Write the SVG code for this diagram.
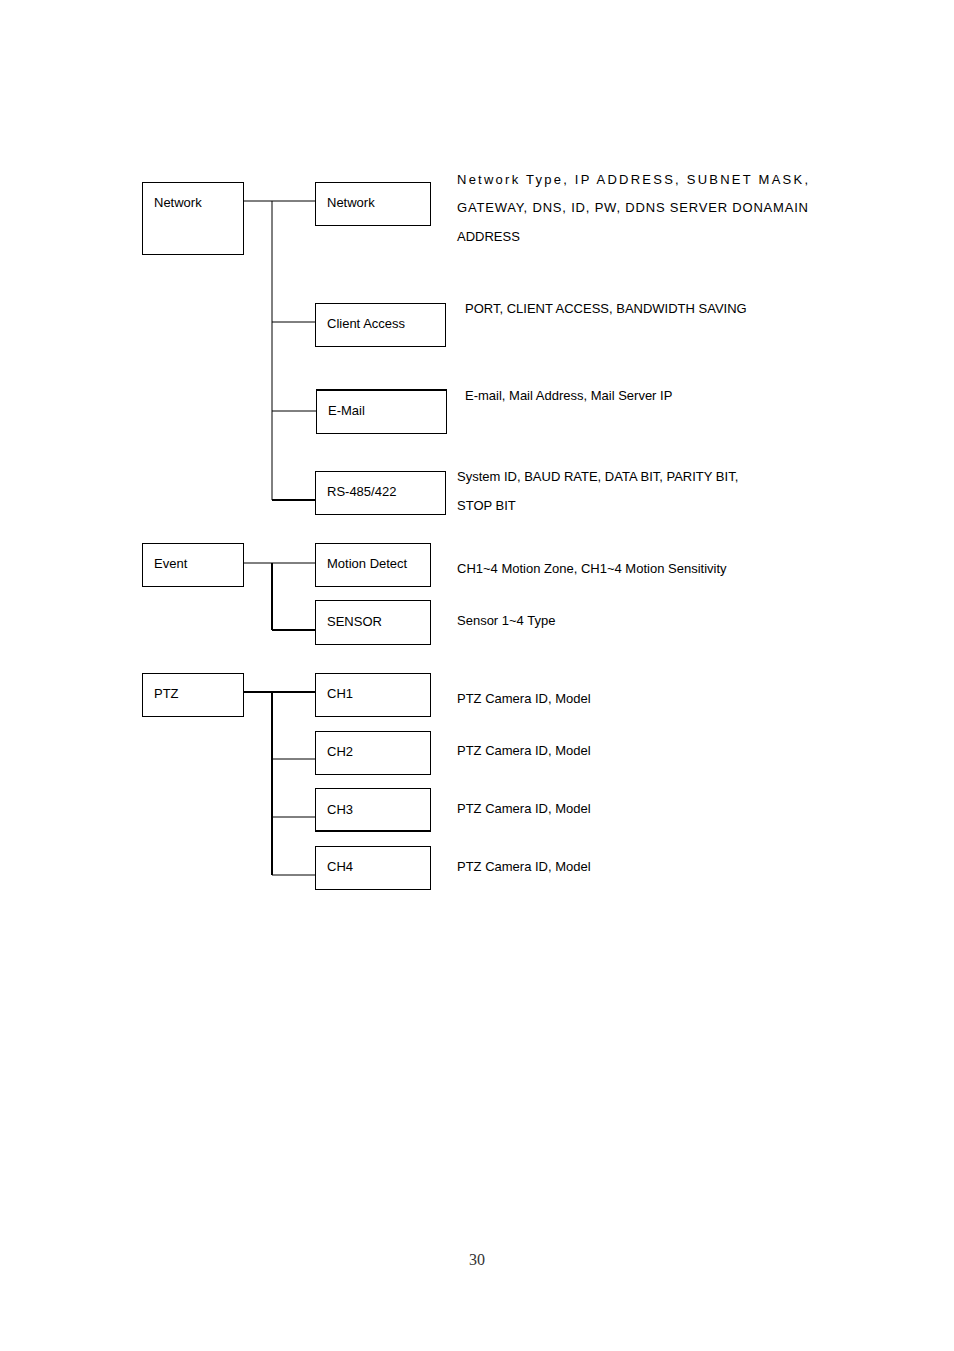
<svg xmlns="http://www.w3.org/2000/svg" width="954" height="1351" viewBox="0 0 954 1351">
<style>
rect{fill:#fff;stroke:#000;stroke-width:1}
text{font-family:"Liberation Sans",Arial,sans-serif;font-size:13px;fill:#000}
.c line{stroke:#000;stroke-width:1}
.t{stroke-width:2!important}
</style>
<rect x="0" y="0" width="954" height="1351" style="stroke:none"/>
<g class="c">
<line x1="243" y1="201" x2="315" y2="201"/>
<line x1="272" y1="201" x2="272" y2="500"/>
<line x1="272" y1="322" x2="315" y2="322"/>
<line x1="272" y1="411" x2="316" y2="411"/>
<line class="t" x1="272" y1="500" x2="315" y2="500"/>
<line x1="243" y1="563" x2="315" y2="563"/>
<line class="t" x1="272" y1="563" x2="272" y2="630"/>
<line class="t" x1="272" y1="630" x2="315" y2="630"/>
<line class="t" x1="243" y1="692" x2="315" y2="692"/>
<line class="t" x1="272" y1="692" x2="272" y2="875"/>
<line x1="272" y1="759" x2="315" y2="759"/>
<line x1="272" y1="817" x2="315" y2="817"/>
<line x1="272" y1="875" x2="315" y2="875"/>
</g>
<g id="n-network"><rect x="142.5" y="182.5" width="101" height="72"/><text x="154" y="207">Network</text></g>
<g id="n-network2"><rect x="315.5" y="182.5" width="115" height="43"/><text x="327" y="207">Network</text></g>
<g id="n-client"><rect x="315.5" y="303.5" width="130" height="43"/><text x="327" y="328">Client Access</text></g>
<g id="n-email"><rect x="316.5" y="389.5" width="130" height="44"/><line x1="316" y1="390" x2="447" y2="390" stroke="#000" stroke-width="2"/><text x="328" y="415">E-Mail</text></g>
<g id="n-rs"><rect x="315.5" y="471.5" width="130" height="43"/><text x="327" y="496">RS-485/422</text></g>
<g id="n-event"><rect x="142.5" y="543.5" width="101" height="43"/><text x="154" y="568">Event</text></g>
<g id="n-motion"><rect x="315.5" y="543.5" width="115" height="43"/><text x="327" y="568">Motion Detect</text></g>
<g id="n-sensor"><rect x="315.5" y="600.5" width="115" height="44"/><text x="327" y="626">SENSOR</text></g>
<g id="n-ptz"><rect x="142.5" y="673.5" width="101" height="43"/><text x="154" y="698">PTZ</text></g>
<g id="n-ch1"><rect x="315.5" y="673.5" width="115" height="43"/><text x="327" y="698">CH1</text></g>
<g id="n-ch2"><rect x="315.5" y="731.5" width="115" height="43"/><text x="327" y="756">CH2</text></g>
<g id="n-ch3"><rect x="315.5" y="788.5" width="115" height="43"/><line x1="315" y1="831" x2="431" y2="831" stroke="#000" stroke-width="2"/><text x="327" y="814">CH3</text></g>
<g id="n-ch4"><rect x="315.5" y="846.5" width="115" height="43"/><text x="327" y="871">CH4</text></g>
<g id="labels">
<text x="457" y="184" textLength="351" lengthAdjust="spacing">Network Type, IP ADDRESS, SUBNET MASK,</text>
<text x="457" y="212" textLength="351" lengthAdjust="spacing">GATEWAY, DNS, ID, PW, DDNS SERVER DONAMAIN</text>
<text x="457" y="241">ADDRESS</text>
<text x="465" y="313">PORT, CLIENT ACCESS, BANDWIDTH SAVING</text>
<text x="465" y="400">E-mail, Mail Address, Mail Server IP</text>
<text x="457" y="481">System ID, BAUD RATE, DATA BIT, PARITY BIT,</text>
<text x="457" y="510">STOP BIT</text>
<text x="457" y="573">CH1~4 Motion Zone, CH1~4 Motion Sensitivity</text>
<text x="457" y="625">Sensor 1~4 Type</text>
<text x="457" y="703">PTZ Camera ID, Model</text>
<text x="457" y="755">PTZ Camera ID, Model</text>
<text x="457" y="813">PTZ Camera ID, Model</text>
<text x="457" y="871">PTZ Camera ID, Model</text>
<text x="477" y="1265" text-anchor="middle" style="font-family:'Liberation Serif',serif;font-size:16px;fill:#333">30</text>
</g>
</svg>
